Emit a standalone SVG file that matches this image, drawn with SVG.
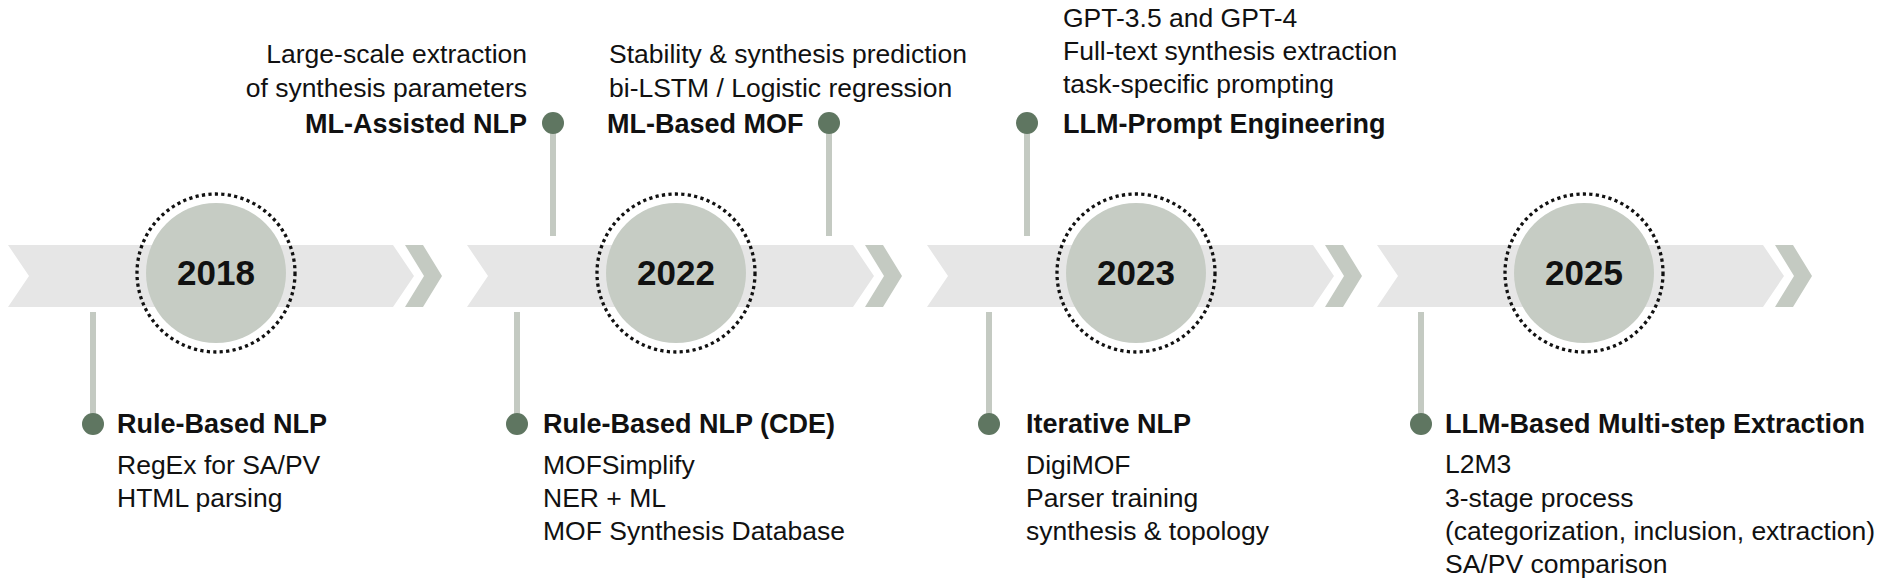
<svg xmlns="http://www.w3.org/2000/svg" width="1893" height="586" viewBox="0 0 1893 586">
<defs>
<style>
.band{fill:#e6e6e6}
.chev{fill:#c4cac2}
.disc{fill:#c6ccc4}
.ring{fill:none;stroke:#111;stroke-width:3.3;stroke-dasharray:3.2 3.3}
.year{font-family:"Liberation Sans",Arial,sans-serif;font-weight:bold;font-size:35px;fill:#111;text-anchor:middle}
.title{font-family:"Liberation Sans",Arial,sans-serif;font-weight:bold;font-size:27px;fill:#111}
.body{font-family:"Liberation Sans",Arial,sans-serif;font-size:26.5px;fill:#111}
.end{text-anchor:end}
.stem{stroke:#c4cac2;stroke-width:6;fill:none}
.dot{fill:#5f7661}
</style>
</defs>
<rect width="1893" height="586" fill="#ffffff"/>

<g id="timeline">
<polygon class="band" points="8,245 393,245 414,276 393,307 8,307 29,276"/>
<polygon class="chev" points="405,245 423,245 442,276 423,307 405,307 424,276"/>
<polygon class="band" points="467,245 853,245 874,276 853,307 467,307 488,276"/>
<polygon class="chev" points="865,245 883,245 902,276 883,307 865,307 884,276"/>
<polygon class="band" points="927,245 1313,245 1334,276 1313,307 927,307 948,276"/>
<polygon class="chev" points="1325,245 1343,245 1362,276 1343,307 1325,307 1344,276"/>
<polygon class="band" points="1377,245 1763,245 1784,276 1763,307 1377,307 1398,276"/>
<polygon class="chev" points="1775,245 1793,245 1812,276 1793,307 1775,307 1794,276"/>
</g>

<g id="connectors">
<line class="stem" x1="553" y1="123" x2="553" y2="236"/>
<line class="stem" x1="829" y1="123" x2="829" y2="236"/>
<line class="stem" x1="1027" y1="123" x2="1027" y2="236"/>
<line class="stem" x1="93" y1="312" x2="93" y2="424"/>
<line class="stem" x1="517" y1="312" x2="517" y2="424"/>
<line class="stem" x1="989" y1="312" x2="989" y2="424"/>
<line class="stem" x1="1421" y1="312" x2="1421" y2="424"/>
</g>

<g id="year-2018">
<circle class="disc" cx="216" cy="273" r="70"/>
<circle class="ring" cx="216" cy="273" r="79"/>
<text class="year" x="216" y="285">2018</text>
</g>
<g id="year-2022">
<circle class="disc" cx="676" cy="273" r="70"/>
<circle class="ring" cx="676" cy="273" r="79"/>
<text class="year" x="676" y="285">2022</text>
</g>
<g id="year-2023">
<circle class="disc" cx="1136" cy="273" r="70"/>
<circle class="ring" cx="1136" cy="273" r="79"/>
<text class="year" x="1136" y="285">2023</text>
</g>
<g id="year-2025">
<circle class="disc" cx="1584" cy="273" r="70"/>
<circle class="ring" cx="1584" cy="273" r="79"/>
<text class="year" x="1584" y="285">2025</text>
</g>

<g id="ml-assisted-nlp">
<circle class="dot" cx="553" cy="123" r="11"/>
<text class="body end" x="527" y="63">Large-scale extraction</text>
<text class="body end" x="527" y="97">of synthesis parameters</text>
<text class="title end" x="527" y="133">ML-Assisted NLP</text>
</g>

<g id="ml-based-mof">
<circle class="dot" cx="829" cy="123" r="11"/>
<text class="body" x="609" y="63">Stability &amp; synthesis prediction</text>
<text class="body" x="609" y="97">bi-LSTM / Logistic regression</text>
<text class="title" x="607" y="133">ML-Based MOF</text>
</g>

<g id="llm-prompt-engineering">
<circle class="dot" cx="1027" cy="123" r="11"/>
<text class="body" x="1063" y="27">GPT-3.5 and GPT-4</text>
<text class="body" x="1063" y="60">Full-text synthesis extraction</text>
<text class="body" x="1063" y="93">task-specific prompting</text>
<text class="title" x="1063" y="133">LLM-Prompt Engineering</text>
</g>

<g id="rule-based-nlp">
<circle class="dot" cx="93" cy="424" r="11"/>
<text class="title" x="117" y="433">Rule-Based NLP</text>
<text class="body" x="117" y="474">RegEx for SA/PV</text>
<text class="body" x="117" y="507">HTML parsing</text>
</g>

<g id="rule-based-nlp-cde">
<circle class="dot" cx="517" cy="424" r="11"/>
<text class="title" x="543" y="433">Rule-Based NLP (CDE)</text>
<text class="body" x="543" y="474">MOFSimplify</text>
<text class="body" x="543" y="507">NER + ML</text>
<text class="body" x="543" y="540">MOF Synthesis Database</text>
</g>

<g id="iterative-nlp">
<circle class="dot" cx="989" cy="424" r="11"/>
<text class="title" x="1026" y="433">Iterative NLP</text>
<text class="body" x="1026" y="474">DigiMOF</text>
<text class="body" x="1026" y="507">Parser training</text>
<text class="body" x="1026" y="540">synthesis &amp; topology</text>
</g>

<g id="llm-multistep">
<circle class="dot" cx="1421" cy="424" r="11"/>
<text class="title" x="1445" y="433">LLM-Based Multi-step Extraction</text>
<text class="body" x="1445" y="473">L2M3</text>
<text class="body" x="1445" y="507">3-stage process</text>
<text class="body" x="1445" y="540">(categorization, inclusion, extraction)</text>
<text class="body" x="1445" y="573">SA/PV comparison</text>
</g>
</svg>
